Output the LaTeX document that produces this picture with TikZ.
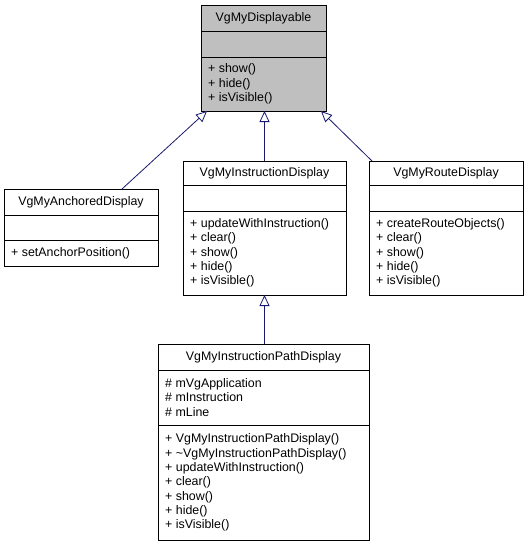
\documentclass[tikz,border=0pt]{standalone}
\usepackage{fontspec}
\setmainfont{Liberation Sans}
\usetikzlibrary{arrows.meta,calc}
\definecolor{edgeblue}{HTML}{191970}
\definecolor{basegray}{HTML}{BFBFBF}
\tikzset{
  box/.style={draw=black, line width=0.9pt, rectangle, anchor=north west, inner sep=0pt, outer sep=0pt},
  title/.style={anchor=center, inner sep=0pt, font=\fontsize{12.4}{14.3}\selectfont},
  members/.style={anchor=west, align=left, inner sep=0pt, font=\fontsize{12.4}{14.3}\selectfont},
  divider/.style={draw=black, line width=0.9pt},
  inherit/.style={draw=edgeblue, line width=0.8pt, -{Triangle[open, length=11pt, width=10pt, fill=white]}}
}
\begin{document}
\begin{tikzpicture}[x=1pt,y=-1pt]
\useasboundingbox (0,0) rectangle (529,544);
% base class
\node[box, fill=basegray, minimum width=125pt, minimum height=106pt] (base) at (201,5) {};
\draw[divider] (201,31) -- (326,31);
\draw[divider] (201,57) -- (326,57);
\node[title] (basetitle) at (263.5,18.5) {VgMyDisplayable};
\node[members] (basem) at (208,84) {+ show()\\+ hide()\\+ isVisible()};
% anchored display
\node[box, fill=white, minimum width=154pt, minimum height=77pt] (anch) at (4,189) {};
\draw[divider] (4,215) -- (158,215);
\draw[divider] (4,240) -- (158,240);
\node[title] (anchtitle) at (81,202) {VgMyAnchoredDisplay};
\node[members] (anchm) at (11,253) {+ setAnchorPosition()};
% instruction display
\node[box, fill=white, minimum width=163pt, minimum height=134pt] (instr) at (183,161) {};
\draw[divider] (183,185) -- (346,185);
\draw[divider] (183,211) -- (346,211);
\node[title] (instrtitle) at (264.5,173) {VgMyInstructionDisplay};
\node[members] (instrm) at (190,253) {+ updateWithInstruction()\\+ clear()\\+ show()\\+ hide()\\+ isVisible()};
% route display
\node[box, fill=white, minimum width=154pt, minimum height=134pt] (route) at (369,161) {};
\draw[divider] (369,185) -- (523,185);
\draw[divider] (369,211) -- (523,211);
\node[title] (routetitle) at (446,173) {VgMyRouteDisplay};
\node[members] (routem) at (376,253) {+ createRouteObjects()\\+ clear()\\+ show()\\+ hide()\\+ isVisible()};
% instruction path display
\node[box, fill=white, minimum width=211pt, minimum height=196pt] (path) at (158,344) {};
\draw[divider] (158,370) -- (369,370);
\draw[divider] (158,425) -- (369,425);
\node[title] (pathtitle) at (263.5,357) {VgMyInstructionPathDisplay};
\node[members] (pathattr) at (165,397.5) {\# mVgApplication\\\# mInstruction\\\# mLine};
\node[members] (pathm) at (165,482.5) {+ VgMyInstructionPathDisplay()\\+ \textasciitilde VgMyInstructionPathDisplay()\\+ updateWithInstruction()\\+ clear()\\+ show()\\+ hide()\\+ isVisible()};
% inheritance edges
\draw[inherit] ($(anch.north west)+(118,0)$) -- ($(base.south west)+(6,0)$);
\draw[inherit] (instr.north) -- (instr.north |- base.south);
\draw[inherit] ($(route.north west)+(3,0)$) -- ($(base.south east)+(-5,0)$);
\draw[inherit] (path.north -| instr.south) -- (instr.south);
\end{tikzpicture}
\end{document}
